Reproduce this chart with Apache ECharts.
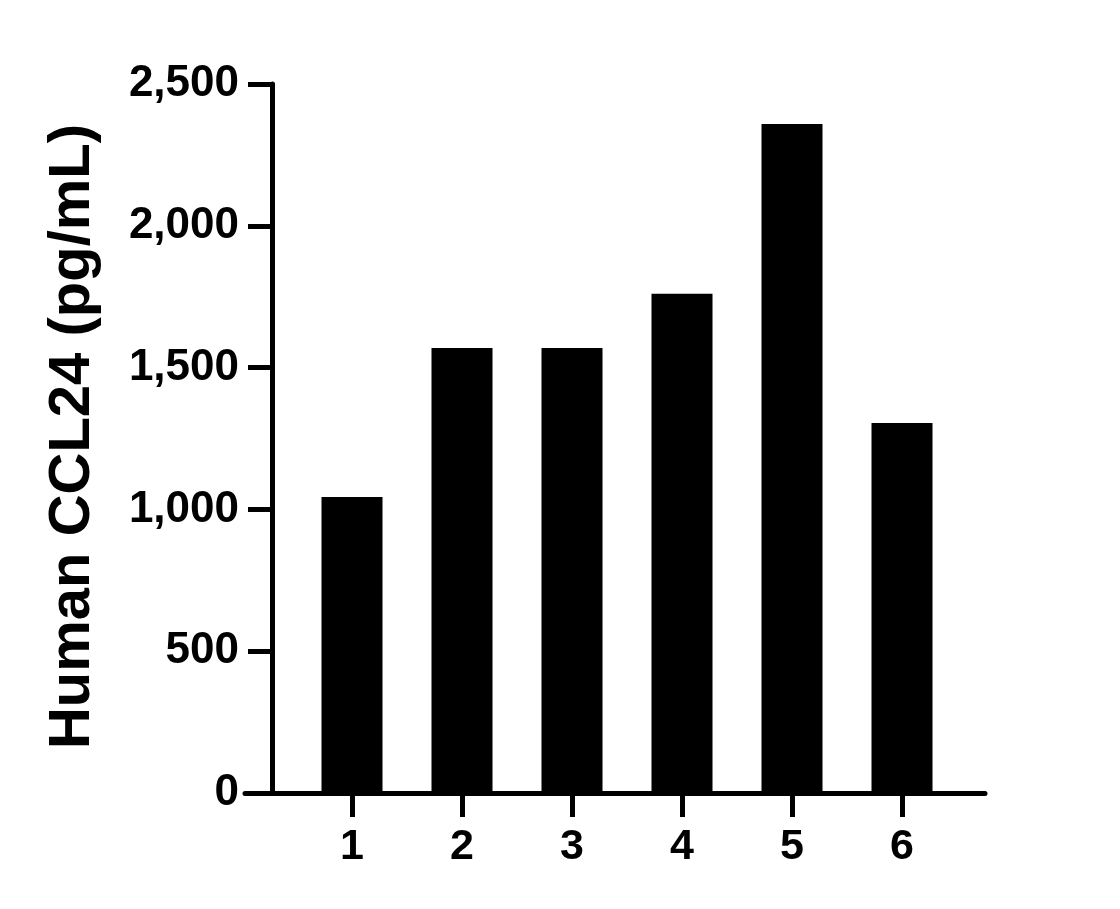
<!DOCTYPE html>
<html>
<head>
<meta charset="utf-8">
<script src="https://cdn.jsdelivr.net/npm/echarts@6/dist/echarts.min.js"></script>
<style>
html,body{margin:0;padding:0;background:#fff;}
#chart{width:1120px;height:909px;}
</style>
</head>
<body>
<div id="chart"></div>
<script>
const categories = [1, 2, 3, 4, 5, 6];
const values = [1044, 1569, 1569, 1760, 2359, 1305];
const yTicks = [0, 500, 1000, 1500, 2000, 2500];
const yTitle = 'Human CCL24 (pg/mL)';

const FONT = '"Liberation Sans", Arial, Helvetica, sans-serif';
const chart = echarts.init(document.getElementById('chart'), null, {renderer: 'canvas'});

const data = categories.map((c, i) => [c, values[i]]);

chart.setOption({
  backgroundColor: '#ffffff',
  animation: false,
  grid: {left: 245, right: 135, top: 84, height: 709, containLabel: false},
  xAxis: {
    type: 'value',
    min: 0.0273,
    max: 6.7545,
    axisLine: {show: true, onZero: false, lineStyle: {color: '#000', width: 5}},
    axisTick: {show: true, length: 24, lineStyle: {color: '#000', width: 5}, customValues: categories},
    axisLabel: {
      show: true, customValues: categories, margin: 33,
      color: '#000', fontFamily: FONT, fontWeight: 'bold', fontSize: 43, lineHeight: 43
    },
    splitLine: {show: false}
  },
  yAxis: {
    type: 'value',
    min: 0,
    max: 2500,
    interval: 500,
    offset: -27,
    name: yTitle,
    nameLocation: 'middle',
    nameGap: 170,
    nameRotate: 90,
    nameTextStyle: {color: '#000', fontFamily: FONT, fontWeight: 'bold', fontSize: 58, padding: [0, 0, 0, 4]},
    axisLine: {show: true, lineStyle: {color: '#000', width: 5}},
    axisTick: {show: true, length: 24, lineStyle: {color: '#000', width: 5}},
    axisLabel: {
      margin: 33, color: '#000', fontFamily: FONT, fontWeight: 'bold', fontSize: 44,
      formatter: v => yTicks.includes(v) ? v.toLocaleString('en-US') : ''
    },
    splitLine: {show: false}
  },
  series: [{
    type: 'bar',
    data: data,
    barWidth: 61,
    itemStyle: {color: '#000'},
    z: 1
  }]
});
</script>
</body>
</html>
